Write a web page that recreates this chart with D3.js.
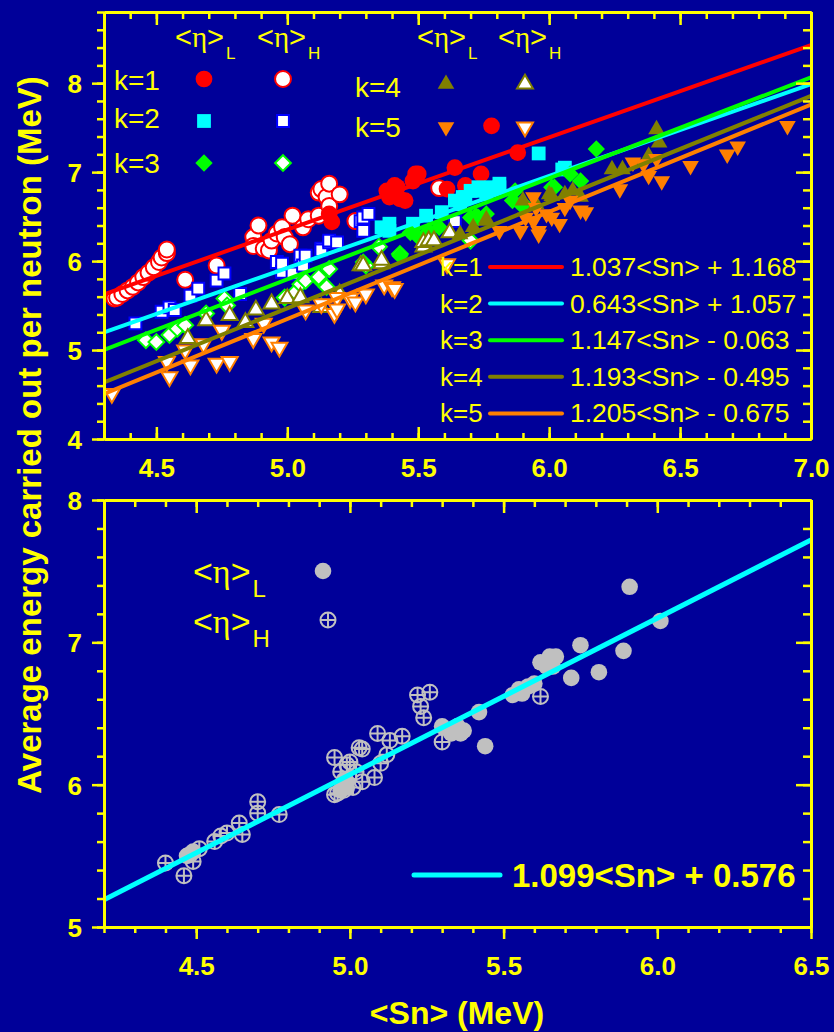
<!DOCTYPE html>
<html>
<head>
<meta charset="utf-8">
<script src="https://cdnjs.cloudflare.com/ajax/libs/d3/7.8.5/d3.min.js"></script>
<style>
    body { margin: 0; background: #000099; }
    svg { display: block; }
</style>
</head>
<body>
<div id="chart"></div>
<script>
// ---- data ----
var kLabels = ["k=1", "k=2", "k=3", "k=4", "k=5"];
var kColors = ["#ff0000", "#00ffff", "#00ff00", "#808000", "#ff8000"];
var hStrokes = ["#ff0000", "#0000ff", "#00ff00", "#808000", "#ff8000"];
var fitTexts = ["1.037<Sn> + 1.168", "0.643<Sn> + 1.057", "1.147<Sn> - 0.063",
    "1.193<Sn> - 0.495", "1.205<Sn> - 0.675"];
// fitted lines as drawn in the figure
var fitSlopes = [1.037, 1.033, 1.135, 1.193, 1.205];
var fitIntercepts = [1.168, 0.758, 0.12, -0.495, -0.675];

// [<Sn>, E] pairs, L = filled, H = open
var k1L = [[5.16, 6.53], [5.17, 6.44], [5.38, 6.79], [5.39, 6.72], [5.41, 6.85], [5.42, 6.83], [5.43, 6.70],
    [5.45, 6.68], [5.48, 6.90], [5.49, 6.98], [5.50, 6.98], [5.61, 6.81], [5.64, 7.05], [5.68, 6.85],
    [5.74, 6.98], [5.78, 7.52], [5.88, 7.22]];
var k1H = [[4.34, 5.58], [4.35, 5.59], [4.37, 5.63], [4.39, 5.67], [4.41, 5.71], [4.43, 5.76], [4.45, 5.82],
    [4.47, 5.87], [4.49, 5.93], [4.51, 5.99], [4.52, 6.04], [4.54, 6.09], [4.54, 6.13], [4.61, 5.79],
    [4.73, 5.95], [4.87, 6.27], [4.87, 6.17], [4.89, 6.40], [4.91, 6.14], [4.93, 6.12], [4.94, 6.23],
    [4.96, 6.31], [4.98, 6.38], [4.99, 6.27], [5.01, 6.19], [5.02, 6.51], [5.06, 6.38], [5.08, 6.47],
    [5.12, 6.51], [5.12, 6.77], [5.13, 6.81], [5.15, 6.72], [5.16, 6.87], [5.16, 6.62], [5.20, 6.75],
    [5.26, 6.45], [5.58, 6.82]];
var k2L = [[5.36, 6.38], [5.39, 6.42], [5.39, 6.34], [5.48, 6.42], [5.53, 6.51], [5.59, 6.55], [5.64, 6.68],
    [5.66, 6.64], [5.67, 6.72], [5.68, 6.72], [5.70, 6.79], [5.73, 6.83], [5.73, 6.79], [5.76, 6.75],
    [5.78, 6.83], [5.81, 6.87], [5.81, 6.83], [5.96, 7.21], [6.05, 7.03], [6.06, 7.05]];
var k2H = [[4.42, 5.30], [4.52, 5.43], [4.55, 5.48], [4.57, 5.45], [4.63, 5.61], [4.66, 5.69], [4.73, 5.78],
    [4.76, 5.86], [4.82, 5.63], [4.96, 5.99], [4.98, 5.88], [4.98, 5.97], [5.02, 5.86], [5.05, 6.06],
    [5.06, 5.95], [5.07, 6.06], [5.13, 6.14], [5.13, 6.12], [5.16, 6.21], [5.16, 6.23], [5.19, 6.21],
    [5.28, 6.45], [5.29, 6.34], [5.29, 6.49], [5.31, 6.53], [5.64, 6.45]];
var k3L = [[5.29, 5.99], [5.43, 6.06], [5.47, 6.32], [5.50, 6.27], [5.54, 6.34], [5.58, 6.38], [5.70, 6.49],
    [5.72, 6.51], [5.73, 6.49], [5.76, 6.53], [5.86, 6.68], [5.87, 6.79], [5.89, 6.64], [5.91, 6.62],
    [6.01, 6.83], [6.02, 6.83], [6.08, 6.98], [6.12, 6.90], [6.18, 7.26]];
var k3H = [[4.46, 5.11], [4.50, 5.09], [4.55, 5.17], [4.58, 5.24], [4.61, 5.28], [4.69, 5.41], [4.76, 5.58],
    [4.77, 5.50], [4.99, 5.59], [5.03, 5.65], [5.05, 5.74], [5.07, 5.78], [5.12, 5.80], [5.12, 5.82],
    [5.15, 5.71], [5.16, 5.91], [5.30, 5.95], [5.35, 6.16], [5.43, 6.08], [5.70, 6.23]];
var k4L = [[5.66, 6.30], [5.71, 6.38], [5.76, 6.45], [5.76, 6.47], [5.90, 6.68], [5.95, 6.64], [6.00, 6.75],
    [6.01, 6.73], [6.06, 6.75], [6.09, 6.79], [6.12, 6.72], [6.24, 7.03], [6.28, 7.03], [6.38, 7.18],
    [6.41, 7.48], [6.42, 7.33]];
var k4H = [[4.62, 5.13], [4.69, 5.33], [4.78, 5.39], [4.84, 5.31], [4.88, 5.45], [4.94, 5.52], [5.00, 5.58],
    [5.05, 5.59], [5.13, 5.48], [5.20, 5.63], [5.28, 5.95], [5.29, 5.95], [5.36, 5.97], [5.36, 6.01],
    [5.52, 6.16], [5.52, 6.21], [5.54, 6.23], [5.56, 6.23], [5.62, 6.32]];
var k5L = [[5.81, 6.34], [5.89, 6.34], [5.91, 6.49], [5.94, 6.45], [5.94, 6.72], [5.95, 6.60], [5.96, 6.34],
    [5.96, 6.30], [5.99, 6.53], [6.01, 6.49], [6.04, 6.42], [6.06, 6.60], [6.08, 6.68], [6.12, 6.57],
    [6.14, 6.55], [6.27, 6.81], [6.32, 7.11], [6.36, 7.09], [6.38, 6.96], [6.41, 7.15], [6.43, 6.90],
    [6.54, 7.07], [6.68, 7.20], [6.72, 7.29], [6.91, 7.52]];
var k5H = [[4.33, 4.51], [4.54, 4.87], [4.55, 4.70], [4.61, 5.00], [4.63, 4.83], [4.68, 5.07], [4.73, 4.85],
    [4.75, 5.22], [4.78, 4.87], [4.87, 5.13], [4.91, 5.30], [4.94, 5.09], [4.97, 5.03], [5.07, 5.45],
    [5.13, 5.52], [5.18, 5.41], [5.19, 5.59], [5.19, 5.46], [5.24, 5.58], [5.26, 5.54], [5.30, 5.63],
    [5.37, 5.73], [5.40, 5.71], [5.41, 5.69], [5.61, 5.97]];
var seriesL = [k1L, k2L, k3L, k4L, k5L];
var seriesH = [k1H, k2H, k3H, k4H, k5H];

// bottom panel: all k together
var allL = [[4.47, 5.50], [4.49, 5.53], [4.97, 5.96], [4.98, 6.03], [4.99, 6.02], [4.99, 5.98], [5.30, 6.41],
    [5.33, 6.36], [5.35, 6.41], [5.36, 6.36], [5.37, 6.38], [5.42, 6.51], [5.44, 6.27], [5.53, 6.63],
    [5.55, 6.67], [5.56, 6.64], [5.58, 6.69], [5.60, 6.71], [5.62, 6.86], [5.64, 6.83], [5.65, 6.90],
    [5.66, 6.83], [5.67, 6.90], [5.72, 6.75], [5.75, 6.98], [5.81, 6.79], [5.89, 6.94], [5.91, 7.39],
    [6.01, 7.15]];
var allH = [[4.40, 5.45], [4.46, 5.36], [4.48, 5.51], [4.49, 5.46], [4.51, 5.55], [4.56, 5.60], [4.58, 5.64],
    [4.60, 5.66], [4.64, 5.73], [4.65, 5.65], [4.70, 5.88], [4.70, 5.80], [4.77, 5.79], [4.95, 6.19],
    [4.95, 5.93], [4.96, 5.94], [4.97, 6.09], [4.98, 5.96], [4.99, 6.14], [5.00, 6.16], [5.01, 5.98],
    [5.02, 6.09], [5.03, 6.26], [5.04, 6.25], [5.04, 6.02], [5.08, 6.05], [5.09, 6.36], [5.10, 6.15],
    [5.12, 6.21], [5.13, 6.31], [5.17, 6.34], [5.22, 6.63], [5.23, 6.55], [5.24, 6.47], [5.26, 6.65],
    [5.30, 6.30], [5.62, 6.62]];
var allFitText = "1.099<Sn> + 0.576";
var allSlope = 1.099;
var allIntercept = 0.576;

var topXTicks = [4.5, 5.0, 5.5, 6.0, 6.5, 7.0];
var topYTicks = [4, 5, 6, 7, 8];
var bottomXTicks = [4.5, 5.0, 5.5, 6.0, 6.5];
var bottomYTicks = [5, 6, 7, 8];
var yTitle = "Average energy carried out per neutron (MeV)";
var xTitle = "<Sn> (MeV)";

// ---- drawing ----
var yellow = "#ffff00";
var sans = "'Liberation Sans', Arial, sans-serif";
var serif = "'Liberation Serif', 'DejaVu Serif', serif";

var svg = d3.select("#chart").append("svg").attr("width", 834).attr("height", 1032);
svg.append("rect").attr("width", 834).attr("height", 1032).attr("fill", "#000099");

var xTop = d3.scaleLinear().domain([4.3, 7.0]).range([104, 811]);
var yTop = d3.scaleLinear().domain([4, 8.8]).range([439, 12]);
var xBot = d3.scaleLinear().domain([4.2, 6.5]).range([104, 811]);
var yBot = d3.scaleLinear().domain([5, 8]).range([927, 500]);

function range(a, b, step) {
    // avoid float drift: work in integer steps
    var out = [];
    var n = Math.round((b - a) / step);
    for (var i = 0; i <= n; i++) out.push(+(a + i * step).toFixed(2));
    return out;
}

function styleAxis(a) {
    a.select(".domain").attr("stroke", yellow).attr("stroke-width", 3);
    a.selectAll(".tick line").attr("stroke", yellow).attr("stroke-width", 2.5);
    a.selectAll(".tick text").attr("fill", yellow).style("font", "bold 26px " + sans);
    return a;
}

function addAxis(axis, tx, ty) {
    return styleAxis(svg.append("g").attr("transform", "translate(" + tx + "," + ty + ")").call(axis));
}

// one frame: minor + major ticks on all four sides
function drawFrame(x, y, xMinor, xMajor, yMinor, yMajor, bottomOut, fmtX, padX) {
    var x0 = x.range()[0], x1 = x.range()[1];
    var yb = y.range()[0], yt = y.range()[1];
    var sb = bottomOut ? 1 : -1;

    addAxis(d3.axisBottom(x).tickValues(xMinor).tickSize(6 * sb).tickSizeOuter(0).tickFormat(""), 0, yb);
    addAxis(d3.axisBottom(x).tickValues(xMajor).tickSize(12 * sb).tickSizeOuter(0)
        .tickPadding(padX).tickFormat(fmtX), 0, yb);
    addAxis(d3.axisTop(x).tickValues(xMinor).tickSize(-7).tickSizeOuter(0).tickFormat(""), 0, yt);
    addAxis(d3.axisTop(x).tickValues(xMajor).tickSize(-13).tickSizeOuter(0).tickFormat(""), 0, yt);

    addAxis(d3.axisLeft(y).tickValues(yMinor).tickSize(7).tickSizeOuter(0).tickFormat(""), x0, 0);
    var yl = addAxis(d3.axisLeft(y).tickValues(yMajor).tickSize(12).tickSizeOuter(0)
        .tickPadding(10).tickFormat(d3.format("d")), x0, 0);
    yl.selectAll(".tick text").attr("dy", "0.36em");
    addAxis(d3.axisRight(y).tickValues(yMinor).tickSize(-8).tickSizeOuter(0).tickFormat(""), x1, 0);
    addAxis(d3.axisRight(y).tickValues(yMajor).tickSize(-15).tickSizeOuter(0).tickFormat(""), x1, 0);
}

// marker shape per k
function symbolFor(k, hollow) {
    if (k === 0) return {type: d3.symbolCircle, size: hollow ? 200 : 220, rot: 0};
    if (k === 1) return {type: d3.symbolSquare, size: hollow ? 140 : 190, rot: 0};
    if (k === 2) return {type: d3.symbolSquare, size: hollow ? 125 : 150, rot: 45};
    if (k === 3) return {type: d3.symbolTriangle, size: hollow ? 110 : 120, rot: 0};
    return {type: d3.symbolTriangle, size: hollow ? 110 : 120, rot: 180};
}

function markerAttrs(sel, k, hollow) {
    var s = symbolFor(k, hollow);
    sel.attr("d", d3.symbol().type(s.type).size(s.size)())
        .attr("fill", hollow ? "#ffffff" : kColors[k])
        .attr("stroke", hollow ? hStrokes[k] : "none")
        .attr("stroke-width", 2);
    return s.rot;
}

// text "<η>" with a subscript
function etaLabel(px, py, sub, size, subSize) {
    var t = svg.append("text").attr("x", px).attr("y", py).attr("fill", yellow)
        .style("font-family", sans).style("font-size", size + "px");
    t.append("tspan").text("<");
    t.append("tspan").style("font-family", serif).text("η");
    t.append("tspan").text(">");
    t.append("tspan").attr("dy", size * 0.42).attr("dx", 2).style("font-size", subSize + "px").text(sub);
}

// ---------- top panel ----------
svg.append("clipPath").attr("id", "clipTop").append("rect")
    .attr("x", 104).attr("y", 12).attr("width", 707).attr("height", 427);
var plotTop = svg.append("g").attr("clip-path", "url(#clipTop)");

seriesL.forEach(function (data, k) {
    [[seriesH[k], true], [data, false]].forEach(function (pair) {
        var rot = symbolFor(k, pair[1]).rot;
        var m = plotTop.selectAll(null).data(pair[0]).enter().append("path")
            .attr("transform", function (d) {
                return "translate(" + xTop(d[0]) + "," + yTop(d[1]) + ") rotate(" + rot + ")";
            });
        markerAttrs(m, k, pair[1]);
    });
});

// fitted lines over the markers
fitSlopes.forEach(function (a, k) {
    var b = fitIntercepts[k];
    var dom = xTop.domain();
    plotTop.append("line")
        .attr("x1", xTop(dom[0])).attr("y1", yTop(a * dom[0] + b))
        .attr("x2", xTop(dom[1])).attr("y2", yTop(a * dom[1] + b))
        .attr("stroke", kColors[k]).attr("stroke-width", 4);
});

drawFrame(xTop, yTop, range(4.3, 7.0, 0.1), topXTicks, range(4.0, 8.8, 0.2), topYTicks,
    false, d3.format(".1f"), 20);

// marker legend
etaLabel(175, 47, "L", 29, 17);
etaLabel(257, 47, "H", 29, 17);
etaLabel(417, 47, "L", 29, 17);
etaLabel(498, 47, "H", 29, 17);

var legRows = [
    {k: 0, tx: 114, ty: 90, mx: 204, my: 79},
    {k: 1, tx: 114, ty: 128, mx: 204, my: 121},
    {k: 2, tx: 114, ty: 173, mx: 204, my: 163},
    {k: 3, tx: 355, ty: 97, mx: 446, my: 84},
    {k: 4, tx: 355, ty: 137, mx: 446, my: 127}
];
legRows.forEach(function (r) {
    svg.append("text").attr("x", r.tx).attr("y", r.ty).attr("fill", yellow)
        .style("font", "28px " + sans).text(kLabels[r.k]);
    [false, true].forEach(function (hollow, i) {
        var m = svg.append("path");
        var rot = markerAttrs(m, r.k, hollow);
        m.attr("transform", "translate(" + (r.mx + i * 79) + "," + r.my + ") rotate(" + rot + ")");
    });
});

// fit legend
fitTexts.forEach(function (txt, k) {
    var ly = 267 + k * 36.6;
    svg.append("text").attr("x", 440).attr("y", ly + 9).attr("fill", yellow)
        .style("font", "26px " + sans).text(kLabels[k]);
    svg.append("line").attr("x1", 490).attr("x2", 562).attr("y1", ly).attr("y2", ly)
        .attr("stroke", kColors[k]).attr("stroke-width", 4).attr("stroke-linecap", "round");
    svg.append("text").attr("x", 570).attr("y", ly + 9).attr("fill", yellow)
        .style("font", "26.5px " + sans).text(txt);
});

// ---------- bottom panel ----------
svg.append("clipPath").attr("id", "clipBot").append("rect")
    .attr("x", 104).attr("y", 500).attr("width", 707).attr("height", 427);
var plotBot = svg.append("g").attr("clip-path", "url(#clipBot)");

var gray = "#c0c0c0";
var crossPath = "M-7.5,0A7.5,7.5 0 1,0 7.5,0A7.5,7.5 0 1,0 -7.5,0M-7.5,0H7.5M0,-7.5V7.5";

plotBot.selectAll(null).data(allH).enter().append("path")
    .attr("transform", function (d) { return "translate(" + xBot(d[0]) + "," + yBot(d[1]) + ")"; })
    .attr("d", crossPath).attr("fill", "none").attr("stroke", gray).attr("stroke-width", 2);

plotBot.selectAll(null).data(allL).enter().append("circle")
    .attr("cx", function (d) { return xBot(d[0]); })
    .attr("cy", function (d) { return yBot(d[1]); })
    .attr("r", 8.3).attr("fill", gray);

var bd = xBot.domain();
plotBot.append("line")
    .attr("x1", xBot(bd[0])).attr("y1", yBot(allSlope * bd[0] + allIntercept))
    .attr("x2", xBot(bd[1])).attr("y2", yBot(allSlope * bd[1] + allIntercept))
    .attr("stroke", "#00ffff").attr("stroke-width", 5);

drawFrame(xBot, yBot, range(4.2, 6.5, 0.1), bottomXTicks, range(5.0, 8.0, 0.2), bottomYTicks,
    true, d3.format(".1f"), 18);

// legend of the bottom panel
etaLabel(193, 583, "L", 34, 24);
etaLabel(193, 633, "H", 34, 24);
svg.append("circle").attr("cx", 323).attr("cy", 571).attr("r", 8.3).attr("fill", gray);
svg.append("path").attr("transform", "translate(328,620)").attr("d", crossPath)
    .attr("fill", "none").attr("stroke", gray).attr("stroke-width", 2);

svg.append("line").attr("x1", 414).attr("x2", 500).attr("y1", 875).attr("y2", 875)
    .attr("stroke", "#00ffff").attr("stroke-width", 5).attr("stroke-linecap", "round");
svg.append("text").attr("x", 512).attr("y", 887).attr("fill", yellow)
    .style("font", "bold 33px " + sans).text(allFitText);

// ---------- axis titles ----------
svg.append("text").attr("transform", "translate(41,435) rotate(-90)")
    .attr("text-anchor", "middle").attr("fill", yellow)
    .style("font", "bold 33px " + sans).text(yTitle);
svg.append("text").attr("x", 457).attr("y", 1024)
    .attr("text-anchor", "middle").attr("fill", yellow)
    .style("font", "bold 32px " + sans).text(xTitle);
</script>
</body>
</html>
